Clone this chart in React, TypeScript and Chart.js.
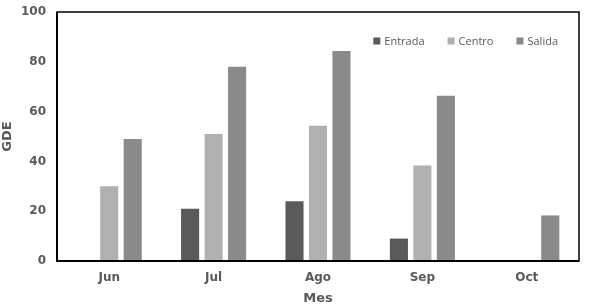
import React, { useEffect, useRef } from "react";
import { Chart, registerables } from "chart.js";

Chart.register(...registerables);

const categories = ["Jun", "Jul", "Ago", "Sep", "Oct"];
const entrada = [0.3, 21, 24, 9, 0];
const centro = [30, 51, 54.3, 38.4, 0];
const salida = [49, 78, 84.3, 66.4, 18.3];
const seriesNames = ["Entrada", "Centro", "Salida"];
const seriesColors = ["#5a5a5a", "#b0b0b0", "#8a8a8a"];

const borderPlugin = {
  id: "areaBorder",
  afterDraw(chart: any) {
    const { ctx, chartArea } = chart;
    ctx.save();
    ctx.strokeStyle = "#000";
    ctx.lineWidth = 1.5;
    ctx.strokeRect(chartArea.left, chartArea.top, chartArea.right - chartArea.left, chartArea.bottom - chartArea.top);
    ctx.lineWidth = 2;
    ctx.beginPath();
    ctx.moveTo(chartArea.left, chartArea.top);
    ctx.lineTo(chartArea.left, chartArea.bottom);
    ctx.lineTo(chartArea.right, chartArea.bottom);
    ctx.stroke();
    ctx.restore();
  },
};

const legendPlugin = {
  id: "insideLegend",
  afterDraw(chart: any) {
    const { ctx, chartArea } = chart;
    ctx.save();
    ctx.font = "11px 'Open Sans'";
    ctx.textBaseline = "middle";
    const box = 7;
    const gapText = 4;
    const gapItem = 23;
    const cy = chartArea.top + 29;
    const widths = chart.data.datasets.map((d: any) => ctx.measureText(d.label).width);
    let x = chartArea.right - 21;
    for (let i = chart.data.datasets.length - 1; i >= 0; i--) {
      const ds = chart.data.datasets[i];
      const textX = x - widths[i];
      const boxX = textX - gapText - box;
      ctx.fillStyle = ds.backgroundColor;
      ctx.fillRect(boxX, cy - box / 2, box, box);
      ctx.fillStyle = "#595959";
      ctx.fillText(ds.label, textX, cy + 0.5);
      x = boxX - gapItem;
    }
    ctx.restore();
  },
};

export default function App() {
  const ref = useRef<HTMLCanvasElement>(null);
  useEffect(() => {
    document.body.style.margin = "0";
    const data = [entrada, centro, salida];
    const chart = new Chart(ref.current!, {
      type: "bar",
      data: {
        labels: categories,
        datasets: seriesNames.map((n, i) => ({
          label: n,
          data: data[i],
          backgroundColor: seriesColors[i],
          borderWidth: 0,
          categoryPercentage: 0.675,
          barPercentage: 0.77,
        })),
      },
      options: {
        animation: false,
        responsive: false,
        maintainAspectRatio: false,
        layout: { padding: { top: 12, right: 10, left: 0, bottom: 0 } },
        plugins: {
          tooltip: { enabled: false },
          legend: { display: false },
        },
        scales: {
          x: {
            grid: { display: false, drawTicks: false },
            border: { display: false },
            ticks: {
              color: "#595959",
              font: { family: "'DejaVu Sans'", size: 12, weight: "bold" },
              padding: 10,
              maxRotation: 0,
            },
            title: {
              display: true,
              text: "Mes",
              color: "#595959",
              font: { family: "'DejaVu Sans'", size: 13, weight: "bold" },
              padding: 0,
            },
            afterFit: (s: any) => {
              s.height = 45;
              s.paddingLeft = 0;
              s.paddingRight = 0;
            },
          },
          y: {
            min: 0,
            max: 100,
            grid: { display: false, drawTicks: false },
            border: { display: false },
            ticks: {
              stepSize: 20,
              color: "#595959",
              font: { family: "'DejaVu Sans'", size: 12, weight: "bold" },
              padding: 11,
            },
            title: {
              display: true,
              text: "GDE",
              color: "#595959",
              font: { family: "'DejaVu Sans'", size: 13, weight: "bold" },
              padding: 0,
            },
            afterFit: (s: any) => {
              s.width = 57;
              s.paddingTop = 0;
              s.paddingBottom = 0;
            },
          },
        },
      },
      plugins: [borderPlugin, legendPlugin],
    });
    return () => chart.destroy();
  }, []);
  return <canvas ref={ref} width={589} height={306} style={{ display: "block" }} />;
}
